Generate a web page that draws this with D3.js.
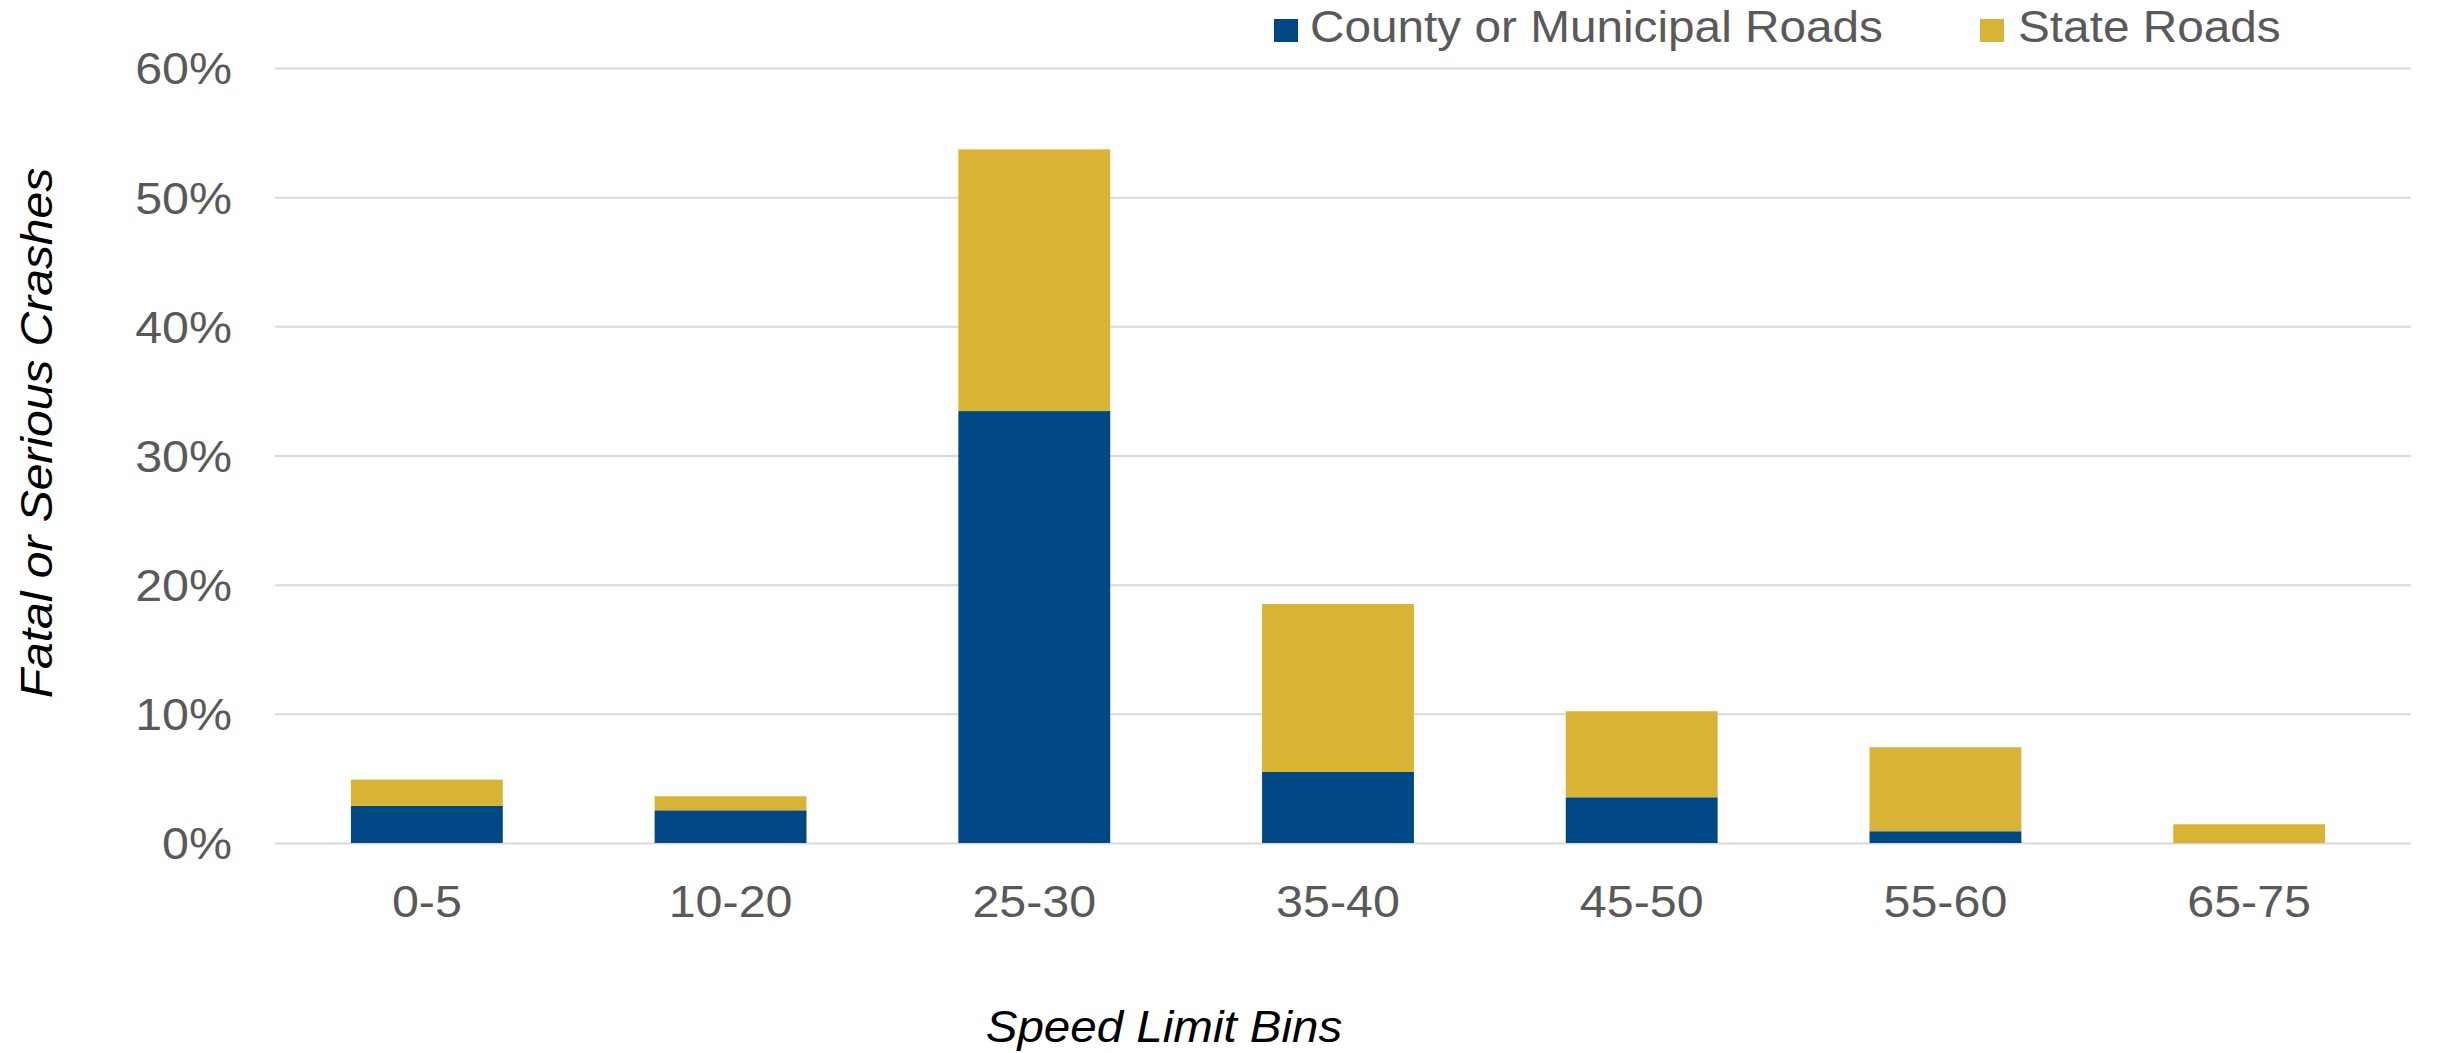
<!DOCTYPE html>
<html>
<head>
<meta charset="utf-8">
<script src="https://cdn.jsdelivr.net/npm/d3@7"></script>
<style>
  html, body { margin: 0; padding: 0; background: #ffffff; }
  svg { display: block; }
  text { font-family: Arial, "Liberation Sans", sans-serif; fill: #595959; }
</style>
</head>
<body>
<svg id="chart" width="2440" height="1053"></svg>
<script>
// ---- data ----
const categories = ["0-5", "10-20", "25-30", "35-40", "45-50", "55-60", "65-75"];
const countyValues = [2.87, 2.53, 33.44, 5.50, 3.54, 0.91, 0.0];
const stateValues = [2.04, 1.09, 20.26, 13.00, 6.66, 6.50, 1.45];
const seriesNames = ["County or Municipal Roads", "State Roads"];
const yTickValues = [0, 10, 20, 30, 40, 50, 60];

// ---- styles ----
const colors = ["#004884", "#D9B335"];
const W = 2440, H = 1053;
const margin = { left: 275, right: 29, top: 68, bottom: 210 };
const plotW = W - margin.left - margin.right;
const plotH = H - margin.top - margin.bottom;
const barRangeW = 2126;
const SX = 1.1;

const svg = d3.select("#chart");
svg.append("rect").attr("width", W).attr("height", H).attr("fill", "#fff");

const g = svg.append("g").attr("transform", `translate(${margin.left},${margin.top})`);

const x = d3.scaleBand().domain(categories).range([0, barRangeW]).paddingInner(0.5).paddingOuter(0.25);
const y = d3.scaleLinear().domain([0, 60]).range([plotH, 0]);

// gridlines
const grid = g.append("g")
  .call(d3.axisLeft(y).tickValues(yTickValues).tickSize(-plotW).tickFormat(""));
grid.select(".domain").remove();
grid.selectAll(".tick line").attr("stroke", "#d9d9d9").attr("stroke-width", 2);

// stacked bars
const rows = categories.map((c, i) => ({ cat: c, county: countyValues[i], state: stateValues[i] }));
const stack = d3.stack().keys(["county", "state"]);
const layers = stack(rows);

g.append("g").selectAll("g")
  .data(layers)
  .join("g")
  .attr("fill", (d, i) => colors[i])
  .selectAll("rect")
  .data(d => d)
  .join("rect")
  .attr("x", d => x(d.data.cat))
  .attr("width", x.bandwidth())
  .attr("y", d => y(d[1]))
  .attr("height", d => Math.max(0, y(d[0]) - y(d[1])));

// y axis labels
const yAxis = g.append("g")
  .call(d3.axisLeft(y).tickValues(yTickValues).tickSize(0).tickPadding(0).tickFormat(d => d + "%"));
yAxis.select(".domain").remove();
yAxis.selectAll("text")
  .attr("x", -43 / SX)
  .attr("dy", "0.36em")
  .attr("transform", `scale(${SX},1)`)
  .style("font-size", "44px")
  .style("font-family", "Arial, 'Liberation Sans', sans-serif")
  .attr("fill", "#595959");

// x axis labels
const xAxis = g.append("g")
  .attr("transform", `translate(0,${plotH})`)
  .call(d3.axisBottom(x).tickSize(0).tickPadding(0));
xAxis.select(".domain").remove();
xAxis.selectAll("text")
  .attr("y", 0)
  .attr("dy", 0)
  .attr("transform", `translate(0,74) scale(${SX},1)`)
  .style("font-size", "44px")
  .style("font-family", "Arial, 'Liberation Sans', sans-serif")
  .attr("fill", "#595959");

// axis titles
svg.append("text")
  .attr("transform", `translate(1164,1042) scale(1.08,1)`)
  .attr("text-anchor", "middle")
  .style("font-size", "44px")
  .style("font-style", "italic")
  .style("fill", "#000")
  .text("Speed Limit Bins");

svg.append("text")
  .attr("transform", `translate(52,433) rotate(-90) scale(1.09,1)`)
  .attr("text-anchor", "middle")
  .style("font-size", "44px")
  .style("font-style", "italic")
  .style("fill", "#000")
  .text("Fatal or Serious Crashes");

// legend
const legendPos = [{ sq: 1274, tx: 1310 }, { sq: 1980, tx: 2018 }];
const legend = svg.append("g");
seriesNames.forEach((name, i) => {
  legend.append("rect")
    .attr("x", legendPos[i].sq).attr("y", 19)
    .attr("width", 24).attr("height", 23)
    .attr("fill", colors[i]);
  legend.append("text")
    .attr("transform", `translate(${legendPos[i].tx},42) scale(1.085,1)`)
    .style("font-size", "44px")
    .text(name);
});
</script>
</body>
</html>
